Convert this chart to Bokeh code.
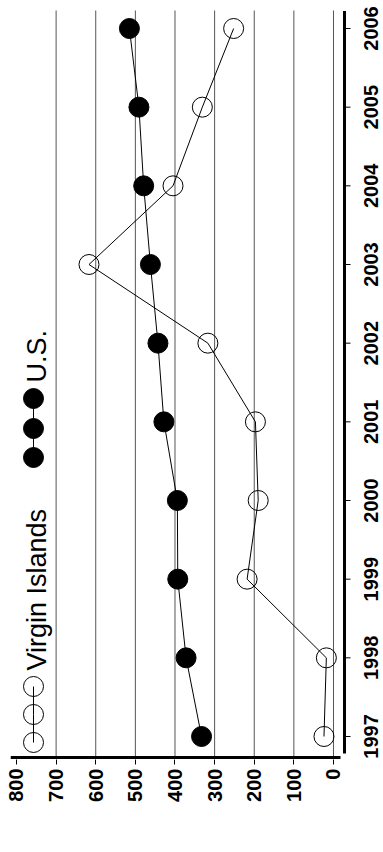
import math
from bokeh.plotting import figure
from bokeh.models import Range1d, FixedTicker, Label
from bokeh.core.properties import value
from bokeh.embed import file_html
from bokeh.resources import INLINE

# ---- data ----
years = [1997, 1998, 1999, 2000, 2001, 2002, 2003, 2004, 2005, 2006]
virgin_islands = [24, 18, 218, 190, 197, 317, 617, 405, 331, 252]
us = [333, 372, 393, 394, 428, 443, 462, 479, 491, 515]
rate_ticks = [0, 100, 200, 300, 400, 500, 600, 700, 800]
grid_ticks = [0, 100, 200, 300, 400, 500, 600, 700]
year_labels = [str(y) for y in years]
series_names = ["Virgin Islands", "U.S."]
axis_title = "Rate"

FONT = value("Liberation Sans")

# ---- layout (chart is drawn rotated: rate runs right-to-left, years bottom-to-top)
LEFT, TOP = 10, 3
FW, FH = 373, 756
X0, X1 = 815.1, -126.2
Y0, Y1 = 1996.7076, 2006.3178

def rate_at(px):   # page x -> rate value
    return X0 + (X1 - X0) * (px - LEFT) / FW

def year_at(py):   # page y -> year value
    return Y1 - (Y1 - Y0) * (py - TOP) / FH

p = figure(frame_width=FW, frame_height=FH,
           x_range=Range1d(X0, X1), y_range=Range1d(Y0, Y1),
           y_axis_location=None,
           output_backend="svg", toolbar_location=None,
           min_border_left=LEFT, min_border_top=TOP,
           min_border_right=0, min_border_bottom=93)
p.outline_line_color = None
p.background_fill_color = "white"
p.border_fill_color = "white"
p.xgrid.grid_line_color = None
p.ygrid.grid_line_color = None

# vertical grid lines (rate)
n_g = len(grid_ticks)
p.segment(x0=grid_ticks, x1=grid_ticks, y0=[year_at(10)] * n_g,
          y1=[year_at(756)] * n_g, line_color="#555555", line_width=1)

# rate axis (bottom): ticks/labels from Bokeh, heavy line drawn to match extent
xa = p.xaxis[0]
xa.ticker = FixedTicker(ticks=rate_ticks)
xa.axis_line_color = None
xa.major_tick_out = 5
xa.major_tick_in = 0
xa.major_tick_line_width = 1
xa.minor_tick_line_color = None
xa.major_label_orientation = math.pi / 2
xa.major_label_text_font = "Liberation Sans"
xa.major_label_text_font_style = "bold"
xa.major_label_text_font_size = "20px"
xa.major_label_text_color = "black"
xa.major_label_standoff = 4
p.segment(x0=[rate_at(10)], x1=[rate_at(340)], y0=[year_at(757)],
          y1=[year_at(757)], line_color="black", line_width=3)

# year axis (right side of the rotated chart)
n_y = len(years)
p.segment(x0=[rate_at(344)], x1=[rate_at(344)], y0=[year_at(10.5)],
          y1=[year_at(753)], line_color="black", line_width=3)
p.segment(x0=[rate_at(344)] * n_y, x1=[rate_at(350)] * n_y, y0=years, y1=years,
          line_color="black", line_width=1)
p.text(x=[rate_at(370.5)] * n_y, y=years, text=year_labels, angle=math.pi / 2,
       text_align="center", text_baseline="middle", text_font=FONT,
       text_font_style="bold", text_font_size="20px", text_color="black")

# series
p.line(x=virgin_islands, y=years, line_color="black", line_width=1)
p.scatter(x=virgin_islands, y=years, size=20, marker="circle",
          fill_color=None, line_color="black", line_width=1)
p.line(x=us, y=years, line_color="black", line_width=1)
p.scatter(x=us, y=years, size=20, marker="circle",
          fill_color="black", line_color="black")

# legend (rotated, drawn by hand)
lx = rate_at(33)
tx = rate_at(36)
vi_ly = [year_at(py) for py in (686, 714, 742)]
us_ly = [year_at(py) for py in (398, 428, 457)]
p.line(x=[lx] * 3, y=vi_ly, line_color="black", line_width=1)
p.scatter(x=[lx] * 3, y=vi_ly, size=20, marker="circle",
          fill_color=None, line_color="black", line_width=1)
p.text(x=[tx], y=[year_at(670)], text=[series_names[0]], angle=math.pi / 2,
       text_align="left", text_baseline="middle", text_font=FONT,
       text_font_size="27px", text_color="black")
p.line(x=[lx] * 3, y=us_ly, line_color="black", line_width=1)
p.scatter(x=[lx] * 3, y=us_ly, size=20, marker="circle",
          fill_color="black", line_color="black")
p.text(x=[tx], y=[year_at(382)], text=[series_names[1]], angle=math.pi / 2,
       text_align="left", text_baseline="middle", text_font=FONT,
       text_font_size="27px", text_color="black")

# axis title (upside-down, as in the rotated original)
p.add_layout(Label(x=rate_at(174), y=year_at(842), text=axis_title,
                   angle=math.pi, text_align="center", text_baseline="middle",
                   text_font="Liberation Sans", text_font_style="bold",
                   text_font_size="18px", text_color="black"))

open("out.html", "w").write(file_html(p, INLINE))
